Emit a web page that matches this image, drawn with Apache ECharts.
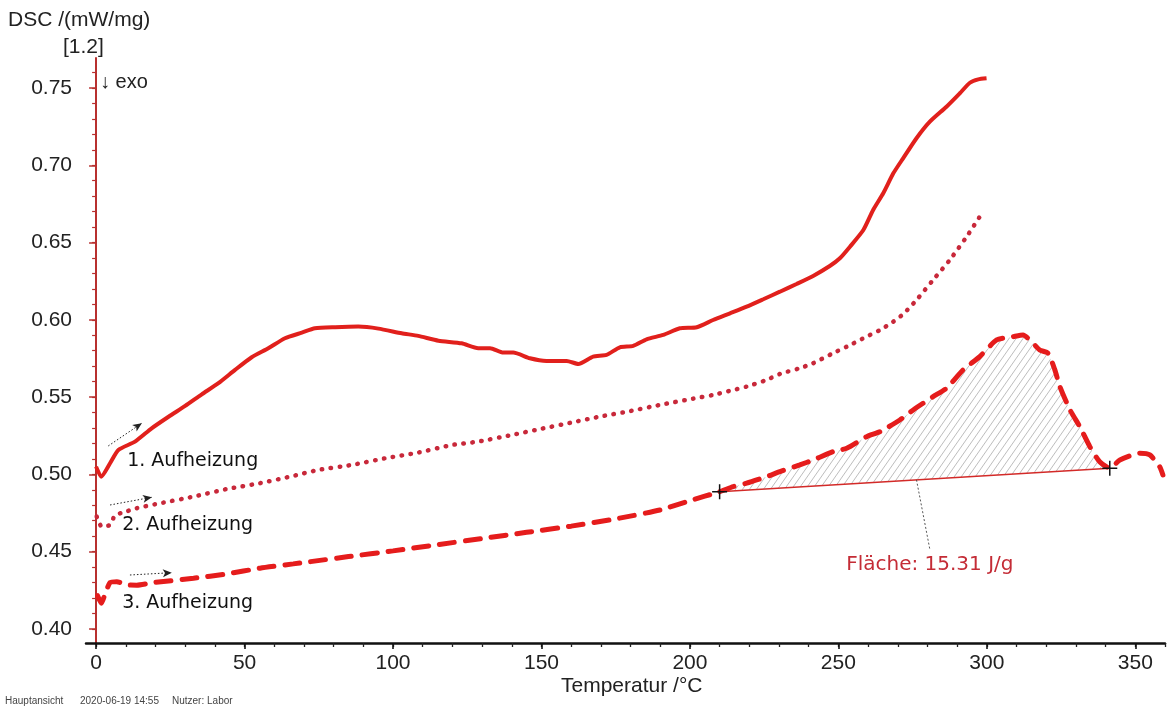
<!DOCTYPE html>
<html>
<head>
<meta charset="utf-8">
<script src="https://cdn.jsdelivr.net/npm/echarts@6/dist/echarts.min.js"></script>
<style>
  html, body { margin: 0; padding: 0; background: #fff; }
  #chart { width: 1171px; height: 711px; }
</style>
</head>
<body>
<div id="chart"></div>
<script>
// DSC runs: temperature in °C and heat flow in mW/mg
const heat1T = [0, 1.7, 4.7, 7.5, 13.1, 18.7, 24.4, 30, 35.6, 41.2, 46.8, 52.4, 58, 63.6, 69.3, 73.7, 80.5, 88.3, 95.1, 102.9, 108.5, 115.3, 123.1, 128.7, 132.7, 137.1, 140.5, 146.1, 151.7, 158.5, 162.4, 167.4, 171.9, 176.4, 180.9, 185.4, 191, 196.6, 202.3, 207.8, 213.5, 219.1, 224.7, 230.3, 235.9, 241.5, 247.1, 250.5, 253.9, 258.4, 261.7, 265.1, 268.5, 271.8, 276.3, 280.8, 286.4, 290.9, 294.3, 297.1, 299.9];
const heat1V = [0.5050, 0.4985, 0.5072, 0.5158, 0.5212, 0.5298, 0.5373, 0.5443, 0.5518, 0.5590, 0.5676, 0.5758, 0.5816, 0.5881, 0.5917, 0.5945, 0.5952, 0.5956, 0.5943, 0.5913, 0.5896, 0.5865, 0.5848, 0.5816, 0.5816, 0.5788, 0.5788, 0.5751, 0.5734, 0.5734, 0.5714, 0.5762, 0.5773, 0.5822, 0.5831, 0.5874, 0.5902, 0.5945, 0.5952, 0.5999, 0.6042, 0.6085, 0.6133, 0.6182, 0.6232, 0.6284, 0.6348, 0.6398, 0.6473, 0.6581, 0.6711, 0.6819, 0.6948, 0.7045, 0.7175, 0.7282, 0.7379, 0.7466, 0.7534, 0.7556, 0.7563];

const heat2T = [0.2, 1.9, 4.7, 6.4, 8.5, 13.7, 21.5, 32.8, 44, 55.2, 66.4, 74.9, 86.1, 97.3, 108.5, 119.8, 128.7, 140, 150, 160, 170, 180, 190, 201.1, 207.8, 214.6, 219.1, 225.8, 230.3, 237, 241.5, 248.2, 252.8, 259.5, 264, 268.5, 272, 276.3, 281.9, 287.5, 293.2, 297.6];
const heat2V = [0.4727, 0.4662, 0.4673, 0.4738, 0.4750, 0.4781, 0.4813, 0.4856, 0.4905, 0.4943, 0.4990, 0.5029, 0.5061, 0.5104, 0.5141, 0.5190, 0.5212, 0.5255, 0.5295, 0.5335, 0.5375, 0.5410, 0.5450, 0.5490, 0.5514, 0.5546, 0.5568, 0.5611, 0.5650, 0.5687, 0.5719, 0.5784, 0.5826, 0.5891, 0.5934, 0.5988, 0.6040, 0.6128, 0.6258, 0.6387, 0.6538, 0.6667];

const heat3T = [0.5, 1.8, 3, 4.7, 7, 10.3, 13.7, 19.3, 32.8, 44, 55.2, 66.4, 72, 85, 100, 115, 130, 145, 160, 175, 190, 200, 210, 214.6, 219.1, 225.8, 230.3, 237, 241.5, 248.2, 252.8, 259.5, 264, 270.7, 275.2, 281.9, 286.4, 292, 297.6, 303.3, 308.9, 312.2, 315, 317.8, 320.6, 322.9, 324.6, 328, 331.3, 334.7, 338, 341.4, 344.8, 351.5, 354.9, 358.2, 359.3];
const heat3V = [0.4215, 0.4166, 0.4225, 0.4300, 0.4306, 0.4285, 0.4283, 0.4300, 0.4328, 0.4356, 0.4393, 0.4421, 0.4435, 0.4468, 0.4505, 0.4545, 0.4585, 0.4625, 0.4665, 0.4712, 0.4770, 0.4830, 0.4888, 0.4921, 0.4943, 0.4985, 0.5018, 0.5061, 0.5093, 0.5147, 0.5169, 0.5244, 0.5276, 0.5352, 0.5417, 0.5503, 0.5557, 0.5676, 0.5762, 0.5870, 0.5891, 0.5902, 0.5859, 0.5805, 0.5784, 0.5676, 0.5568, 0.5417, 0.5309, 0.5179, 0.5082, 0.5040, 0.5093, 0.5137, 0.5126, 0.5050, 0.4996];

// Peak integration: baseline end points and the reported area
const peakStart = [210, 0.4888];
const peakEnd = [341.4, 0.5040];
const peakLeaderFrom = [276.3, 0.4965];
const peakLeaderTo = [280.8, 0.4515];
const peakLabelAt = [280.8, 0.4414];
const peakLabel = 'Fläche: 15.31 J/g';

// Run names and where they are written
const runNames = ['1. Aufheizung', '2. Aufheizung', '3. Aufheizung'];
const runLabelAt = [[10.3, 0.5087], [8.6, 0.4673], [8.6, 0.4166]];
// Heating-direction arrows (from, to)
const runArrows = [
  [[4.1, 0.5184], [15.4, 0.5331]],
  [[4.7, 0.4802], [18.8, 0.4852]],
  [[11.4, 0.4349], [25.5, 0.4364]]
];

// Axis ticks
const xTickLabels = [0, 50, 100, 150, 200, 250, 300, 350];
const xMinorTicks = [0, 10, 20, 30, 40, 50, 60, 70, 80, 90, 100, 110, 120, 130, 140, 150, 160, 170, 180, 190, 200, 210, 220, 230, 240, 250, 260, 270, 280, 290, 300, 310, 320, 330, 340, 350, 360];
const yTickLabels = [0.40, 0.45, 0.50, 0.55, 0.60, 0.65, 0.70, 0.75];
const yMinorTicks = [0.40, 0.41, 0.42, 0.43, 0.44, 0.45, 0.46, 0.47, 0.48, 0.49, 0.50, 0.51, 0.52, 0.53, 0.54, 0.55, 0.56, 0.57, 0.58, 0.59, 0.60, 0.61, 0.62, 0.63, 0.64, 0.65, 0.66, 0.67, 0.68, 0.69, 0.70, 0.71, 0.72, 0.73, 0.74, 0.75, 0.76];

const X_MIN = -3.4, X_MAX = 360;
const Y_MIN = 0.3909, Y_MAX = 0.7694;

const pair = (t, v) => t.map((x, i) => [x, v[i]]);

// Diagonal hatch used for the integrated peak area
function hatch() {
  const c = document.createElement('canvas');
  c.width = 7; c.height = 10;
  const g = c.getContext('2d');
  g.strokeStyle = 'rgba(120,120,120,0.7)';
  g.lineWidth = 0.7;
  g.beginPath();
  g.moveTo(0, 10); g.lineTo(7, 0);
  g.moveTo(-1, 1.43); g.lineTo(1, -1.43);
  g.moveTo(6, 11.43); g.lineTo(8, 8.57);
  g.stroke();
  return c;
}
const hatchImg = hatch();

const UI = 'Liberation Sans, Arial, sans-serif';
const TXT = 'DejaVu Sans, Verdana, sans-serif';
const AXIS_RED = '#b8302f';

const chart = echarts.init(document.getElementById('chart'), null, { renderer: 'canvas' });

const labelSeries = runNames.map((name, i) => ({
  type: 'scatter',
  data: [runLabelAt[i]],
  symbolSize: 1,
  itemStyle: { color: 'rgba(0,0,0,0)', opacity: 1 },
  silent: true,
  z: 10,
  label: {
    show: true, position: 'right', distance: 0, opacity: 1,
    formatter: name, color: '#111', fontSize: 19, fontFamily: TXT
  }
}));

chart.setOption({
  animation: false,
  backgroundColor: '#fff',
  grid: { left: 86, right: 6, top: 58, bottom: 68 },
  xAxis: [
    {
      type: 'value', min: X_MIN, max: X_MAX, position: 'bottom',
      axisLine: { show: true, lineStyle: { color: '#111', width: 2.5 } },
      axisTick: { show: true, customValues: xMinorTicks, length: 4, lineStyle: { color: '#222', width: 1.3 } },
      axisLabel: { customValues: xTickLabels, margin: 10, color: '#222', fontSize: 21, fontFamily: UI },
      splitLine: { show: false }
    },
    {
      type: 'value', min: X_MIN, max: X_MAX, position: 'bottom',
      axisLine: { show: false },
      axisTick: { show: true, customValues: xTickLabels, length: 6, lineStyle: { color: '#111', width: 1.6 } },
      axisLabel: { show: false },
      splitLine: { show: false }
    }
  ],
  yAxis: [
    {
      type: 'value', min: Y_MIN, max: Y_MAX, position: 'left',
      axisLine: { show: true, lineStyle: { color: AXIS_RED, width: 2 } },
      axisTick: { show: true, customValues: yMinorTicks, length: 4, lineStyle: { color: AXIS_RED, width: 1.2 } },
      axisLabel: {
        customValues: yTickLabels, margin: 14, color: '#222', fontSize: 21, fontFamily: UI,
        formatter: v => v.toFixed(2)
      },
      splitLine: { show: false }
    },
    {
      type: 'value', min: Y_MIN, max: Y_MAX, position: 'left',
      axisLine: { show: false },
      axisTick: { show: true, customValues: yTickLabels, length: 7, lineStyle: { color: AXIS_RED, width: 1.5 } },
      axisLabel: { show: false },
      splitLine: { show: false }
    }
  ],
  graphic: [
    { type: 'text', left: 8, top: 10, style: { text: 'DSC /(mW/mg)', font: '21px ' + UI, fill: '#222' } },
    { type: 'text', left: 63, top: 37, style: { text: '[1.2]', font: '21px ' + UI, fill: '#222' } },
    { type: 'text', left: 100, top: 72, style: { text: '↓ exo', font: '20px ' + UI, fill: '#222' } },
    { type: 'text', left: 561, top: 676, style: { text: 'Temperatur /°C', font: '21px ' + UI, fill: '#222' } },
    { type: 'text', left: 5, top: 696, style: { text: 'Hauptansicht', font: '10px ' + UI, fill: '#444' } },
    { type: 'text', left: 80, top: 696, style: { text: '2020-06-19 14:55', font: '10px ' + UI, fill: '#444' } },
    { type: 'text', left: 172, top: 696, style: { text: 'Nutzer: Labor', font: '10px ' + UI, fill: '#444' } }
  ],
  series: [
    {
      // hatched peak area between the third run and its baseline
      type: 'custom',
      data: [peakStart],
      silent: true,
      z: 1,
      renderItem: function (params, api) {
        const pts = [];
        heat3T.forEach((t, i) => {
          if (t >= peakStart[0] && t <= peakEnd[0]) pts.push(api.coord([t, heat3V[i]]));
        });
        pts.push(api.coord(peakEnd));
        pts.push(api.coord(peakStart));
        return {
          type: 'polygon',
          shape: { points: pts },
          style: { fill: { image: hatchImg, repeat: 'repeat' }, stroke: null }
        };
      }
    },
    {
      name: runNames[0], type: 'line', data: pair(heat1T, heat1V),
      showSymbol: false, smooth: 0.2, z: 5,
      lineStyle: { color: '#e1201c', width: 4 }
    },
    {
      name: runNames[1], type: 'line', data: pair(heat2T, heat2V),
      showSymbol: false, smooth: 0.2, z: 5,
      lineStyle: { color: '#c8283a', width: 4.5, type: [0.5, 8.5], cap: 'round' }
    },
    {
      name: runNames[2], type: 'line', data: pair(heat3T, heat3V),
      showSymbol: false, smooth: 0.2, z: 5,
      lineStyle: { color: '#e51c1c', width: 5, type: [15, 11], cap: 'round' }
    },
    {
      // integration baseline
      type: 'line', data: [peakStart, peakEnd], showSymbol: false, z: 6,
      lineStyle: { color: '#d32a28', width: 1.6 }
    },
    {
      // leader from baseline to area label
      type: 'line', data: [peakLeaderFrom, peakLeaderTo], showSymbol: false, z: 6,
      lineStyle: { color: '#444', width: 0.9, type: [2, 2] }
    },
    {
      // integration limits
      type: 'scatter', data: [peakStart, peakEnd], z: 8, silent: true,
      symbol: 'path://M9,0H11V9H20V11H11V20H9V11H0V9H9Z', symbolSize: 15,
      itemStyle: { color: '#111', opacity: 1 }
    },
    {
      type: 'scatter', data: [peakLabelAt], symbolSize: 1, silent: true, z: 10,
      itemStyle: { color: 'rgba(0,0,0,0)', opacity: 1 },
      label: { show: true, position: 'inside', opacity: 1, formatter: peakLabel, color: '#c42c36', fontSize: 20, fontFamily: TXT }
    },
    ...labelSeries,
    {
      // heating-direction arrows
      type: 'line', data: [], silent: true, z: 9,
      markLine: {
        silent: true, symbol: ['none', 'arrow'], symbolSize: [6, 9],
        label: { show: false },
        lineStyle: { color: '#222', width: 1, type: [1.5, 2] },
        data: runArrows.map(a => [{ coord: a[0] }, { coord: a[1] }])
      }
    }
  ]
});
</script>
</body>
</html>
